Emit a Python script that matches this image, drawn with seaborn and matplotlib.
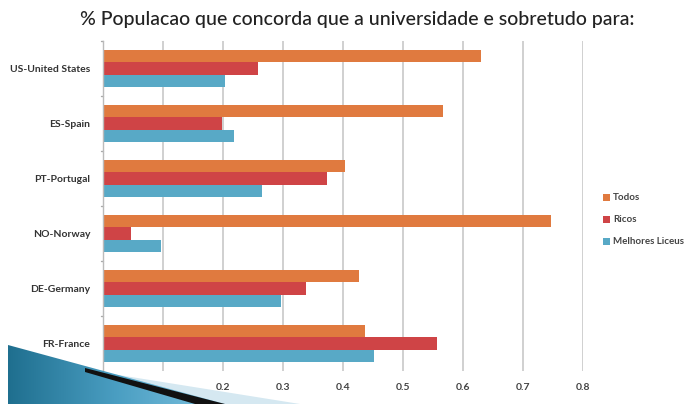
import matplotlib
matplotlib.use("Agg")
import matplotlib.pyplot as plt
import seaborn as sns
import pandas as pd
import numpy as np
from matplotlib.patches import Polygon
from matplotlib.colors import LinearSegmentedColormap

countries = ["US-United States", "ES-Spain", "PT-Portugal", "NO-Norway", "DE-Germany", "FR-France"]
todos = [0.630, 0.567, 0.403, 0.746, 0.427, 0.436]
ricos = [0.258, 0.199, 0.373, 0.046, 0.339, 0.556]
liceus = [0.204, 0.219, 0.265, 0.096, 0.297, 0.451]
series = ["Todos", "Ricos", "Melhores Liceus"]
colors = ["#E07A3F", "#CF4446", "#58A9C6"]
x_ticks = [0, 0.1, 0.2, 0.3, 0.4, 0.5, 0.6, 0.7, 0.8]
x_tick_labels = ["0", "0.1", "0.2", "0.3", "0.4", "0.5", "0.6", "0.7", "0.8"]

df = pd.DataFrame({
    "country": countries * 3,
    "serie": [s for s in series for _ in countries],
    "value": todos + ricos + liceus,
})

sns.set_theme(style="white")
plt.rcParams["font.family"] = ["Lato", "DejaVu Sans"]

W, H = 691, 404
fig = plt.figure(figsize=(W / 100, H / 100), dpi=100)
ax = fig.add_axes([103 / W, 1 - 371 / H, 480 / W, 330 / H])

sns.barplot(data=df, y="country", x="value", hue="serie", order=countries,
            hue_order=series, palette=colors, orient="h", width=0.66,
            saturation=1, linewidth=0, edgecolor="none", ax=ax, legend=False)

ax.set_xlim(0, 0.8)
ax.set_ylim(len(countries) - 0.5, -0.5)
ax.set_xticks(x_ticks)
ax.set_xticklabels(x_tick_labels)
ax.set_xlabel("")
ax.set_ylabel("")
ax.xaxis.grid(True, color="#C8C8C8", linewidth=1.2)
ax.set_axisbelow(True)
for s in ["top", "right", "bottom"]:
    ax.spines[s].set_visible(False)
ax.spines["left"].set_color("#BBBBBB")
ax.spines["left"].set_linewidth(1.0)
ax.set_yticks(np.arange(len(countries)))
ax.set_yticklabels(countries)
ax.tick_params(axis="y", length=0, pad=9, labelsize=7.5, colors="#333333")
ax.tick_params(axis="x", length=0, pad=9, labelsize=7.5, colors="#444444")
for lab in ax.get_yticklabels() + ax.get_xticklabels():
    lab.set_fontweight("bold")
# small separator ticks between country groups
for b in np.arange(-0.5, len(countries) + 0.5, 1.0):
    ax.plot([-0.004, 0], [b, b], color="#AAAAAA", lw=1, clip_on=False)

fig.text(357 / W, 1 - 20 / H, "% Populacao que concorda que a universidade e sobretudo para:",
         ha="center", va="center", fontsize=14, fontweight="medium", color="#222222")

# legend
for i, (name, c) in enumerate(zip(series, colors)):
    y = 1 - (197 + i * 22) / H
    fig.patches.append(Polygon([[603 / W, y - 4 / H], [610 / W, y - 4 / H],
                                [610 / W, y + 3 / H], [603 / W, y + 3 / H]],
                               closed=True, transform=fig.transFigure,
                               facecolor=c, edgecolor="none"))
    fig.text(613 / W, y, name, ha="left", va="center", fontsize=7,
             fontweight="bold", color="#444444")

# slide corner ornament
def px(pts):
    return [[x / W, 1 - y / H] for x, y in pts]

fig.patches.append(Polygon(px([(300, 404), (100, 372), (225, 404)]), closed=True,
                           transform=fig.transFigure, facecolor="#D5E8F1",
                           edgecolor="none", zorder=5))
grad = np.linspace(0, 1, 256).reshape(1, -1)
cmap = LinearSegmentedColormap.from_list("corner", ["#1F6F8F", "#4A9EC2", "#7FC3E0"])
gax = fig.add_axes([0, 0, 1, 1], zorder=6)
gax.set_xlim(0, 1)
gax.set_ylim(0, 1)
gax.axis("off")
img = gax.imshow(grad, cmap=cmap, extent=[8 / W, 225 / W, 0, 1 - 345 / H],
                 aspect="auto", transform=gax.transData)
clip = Polygon(px([(8, 345), (225, 404), (8, 404)]), closed=True,
               transform=gax.transData, facecolor="none", edgecolor="none")
gax.add_patch(clip)
img.set_clip_path(clip)
gax.add_patch(Polygon(px([(85, 368), (225, 404), (195, 404), (85, 372)]), closed=True,
                      transform=gax.transData, facecolor="#111111", edgecolor="none"))

fig.savefig("out.png", dpi=100)
